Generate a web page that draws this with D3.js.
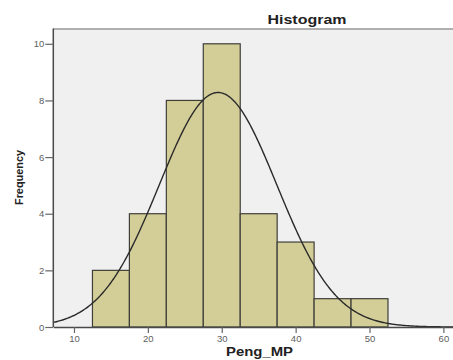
<!DOCTYPE html>
<html>
<head>
<meta charset="utf-8">
<script src="https://cdn.jsdelivr.net/npm/d3@7"></script>
<style>
  html, body { margin: 0; padding: 0; background: #ffffff; }
  svg { display: block; }
  text { font-family: "Liberation Sans", Arial, sans-serif; }
</style>
</head>
<body>
<div id="chart"></div>
<script>
// Histogram of Peng_MP with fitted normal curve
const binEdges = [12.5, 17.5, 22.5, 27.5, 32.5, 37.5, 42.5, 47.5, 52.5];
const counts = [2, 4, 8, 10, 4, 3, 1, 1];
const xTicks = [10, 20, 30, 40, 50, 60];
const yTicks = [0, 2, 4, 6, 8, 10];
const fitMean = 29.5;
const fitSd = 7.95;
const titleText = "Histogram";
const xLabel = "Peng_MP";
const yLabel = "Frequency";

const W = 453, H = 360;
const plot = { left: 53.3, right: 453, top: 28.5, bottom: 327 };

const svg = d3.select("#chart").append("svg")
  .attr("width", W).attr("height", H);

const x = d3.scaleLinear().domain([7.2, 61.3]).range([plot.left, plot.right]);
const y = d3.scaleLinear().domain([0, 10.54]).range([plot.bottom, plot.top]);

// plot background
svg.append("rect")
  .attr("x", plot.left).attr("y", plot.top)
  .attr("width", plot.right - plot.left).attr("height", plot.bottom - plot.top)
  .attr("fill", "#f0f0f0");

// top frame line
svg.append("line")
  .attr("x1", plot.left).attr("x2", plot.right)
  .attr("y1", plot.top + 0.5).attr("y2", plot.top + 0.5)
  .attr("stroke", "#9a9a9a").attr("stroke-width", 1.5);

// bars
const bins = counts.map((c, i) => ({ x0: binEdges[i], x1: binEdges[i + 1], n: c }));
svg.append("g").selectAll("rect").data(bins).join("rect")
  .attr("x", d => x(d.x0))
  .attr("y", d => y(d.n))
  .attr("width", d => x(d.x1) - x(d.x0))
  .attr("height", d => y(0) - y(d.n))
  .attr("fill", "#d3ce98")
  .attr("stroke", "#3f3f3a")
  .attr("stroke-width", 1.2);

// fitted normal curve scaled to frequency
const total = d3.sum(counts);
const binWidth = binEdges[1] - binEdges[0];
const [dx0, dx1] = x.domain();
const curvePts = d3.range(0, 401).map(i => {
  const v = dx0 + (dx1 - dx0) * i / 400;
  const z = (v - fitMean) / fitSd;
  return [v, total * binWidth * Math.exp(-0.5 * z * z) / (fitSd * Math.sqrt(2 * Math.PI))];
});
svg.append("path")
  .datum(curvePts)
  .attr("fill", "none")
  .attr("stroke", "#2a2a2a")
  .attr("stroke-width", 1.4)
  .attr("d", d3.line().x(d => x(d[0])).y(d => y(d[1])));

// axes
const yAxis = svg.append("g")
  .attr("transform", `translate(${plot.left},0)`)
  .call(d3.axisLeft(y).tickValues(yTicks).tickSize(8).tickPadding(1).tickSizeOuter(0));
const xAxis = svg.append("g")
  .attr("transform", `translate(0,${plot.bottom})`)
  .call(d3.axisBottom(x).tickValues(xTicks).tickSize(6).tickPadding(1).tickSizeOuter(0));

[yAxis, xAxis].forEach(g => {
  g.select(".domain").attr("stroke", "#4a4a4a").attr("stroke-width", 1.5);
  g.selectAll(".tick line").attr("stroke", "#666").attr("stroke-width", 1.2);
  g.selectAll(".tick text")
    .attr("fill", "#5e5e5e")
    .style("font-size", "9.5px")
    .style("font-family", "'Liberation Sans', Arial, sans-serif");
});
yAxis.select(".domain").attr("d", `M0,${plot.top}V${plot.bottom}`);
xAxis.selectAll(".tick text").attr("dy", "0.8em");

// title and axis labels
svg.append("text")
  .attr("x", 307).attr("y", 24)
  .attr("text-anchor", "middle")
  .attr("textLength", 79).attr("lengthAdjust", "spacingAndGlyphs")
  .style("font-size", "12px").style("font-weight", "bold")
  .attr("fill", "#222")
  .text(titleText);

svg.append("text")
  .attr("x", 259.5).attr("y", 356)
  .attr("text-anchor", "middle")
  .attr("textLength", 67).attr("lengthAdjust", "spacingAndGlyphs")
  .style("font-size", "12px").style("font-weight", "bold")
  .attr("fill", "#222")
  .text(xLabel);

svg.append("text")
  .attr("transform", "translate(22.5,177.5) rotate(-90)")
  .attr("text-anchor", "middle")
  .attr("textLength", 55).attr("lengthAdjust", "spacingAndGlyphs")
  .style("font-size", "11.5px").style("font-weight", "bold")
  .attr("fill", "#222")
  .text(yLabel);
</script>
</body>
</html>
